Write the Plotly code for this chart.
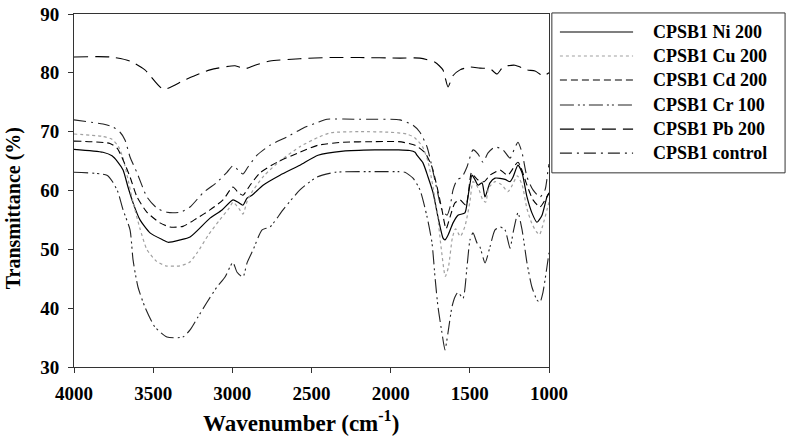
import plotly.graph_objects as go

# ---------------- data ----------------
ni_wn = [4000, 3817, 3760, 3722, 3690, 3659, 3627, 3583, 3520, 3438, 3406, 3330, 3267, 3141, 3065,
         2996, 2964, 2933, 2907, 2876, 2806, 2699, 2573, 2459, 2300, 2100, 1950, 1880, 1846, 1834, 1796,
         1764, 1732, 1701, 1669, 1657, 1638, 1606, 1575, 1531, 1512, 1486, 1467, 1448, 1423, 1404,
         1373, 1341, 1278, 1246, 1227, 1196, 1170, 1139, 1108, 1076, 1044, 1013, 1000]
ni_t = [67.0, 66.5, 65.9, 64.8, 63.5, 60.6, 57.9, 55.0, 52.8, 51.6, 51.2, 51.6, 52.1, 55.3, 56.7,
        58.4, 58.0, 57.5, 58.7, 59.2, 60.9, 62.6, 64.3, 66.0, 66.7, 66.9, 66.9, 66.8, 66.5, 66.0, 64.7,
        62.3, 59.6, 55.5, 51.9, 51.6, 52.4, 54.5, 55.8, 56.2, 58.9, 62.6, 61.8, 60.9, 61.3, 58.9,
        61.3, 62.1, 61.9, 61.5, 62.3, 64.3, 63.0, 58.9, 56.2, 54.6, 55.8, 58.9, 59.5]

cu_wn = [4000, 3820, 3760, 3720, 3690, 3660, 3627, 3583, 3540, 3480, 3420, 3330, 3270, 3220, 3150,
         3080, 3020, 2996, 2960, 2933, 2905, 2870, 2800, 2700, 2570, 2460, 2380, 2200, 2000, 1900,
         1850, 1800, 1765, 1735, 1705, 1680, 1655, 1635, 1610, 1590, 1560, 1530, 1500, 1480, 1460,
         1440, 1420, 1400, 1380, 1340, 1300, 1260, 1230, 1200, 1170, 1140, 1110, 1080, 1060, 1040,
         1010, 1000]
cu_t = [69.6, 69.2, 68.7, 67.5, 65.5, 62.0, 58.0, 53.5, 50.0, 48.0, 47.2, 47.2, 47.8, 49.5, 52.5,
        55.0, 57.0, 58.0, 57.0, 56.0, 58.3, 60.0, 62.5, 65.0, 67.5, 69.0, 69.8, 70.0, 69.9, 69.6,
        69.0, 67.5, 65.0, 61.0, 56.0, 50.0, 45.4, 47.0, 52.0, 53.5, 52.2, 54.0, 58.0, 61.5, 61.0,
        60.0, 58.5, 58.0, 60.5, 61.5, 61.0, 59.8, 61.0, 62.5, 61.0, 57.0, 54.5, 53.0, 52.5, 54.0,
        57.0, 58.0]

cd_wn = [4000, 3773, 3728, 3690, 3646, 3602, 3539, 3457, 3394, 3312, 3223, 3141, 3059, 2996, 2964,
         2933, 2888, 2825, 2718, 2573, 2459, 2300, 2100, 1950, 1846, 1783, 1739, 1707, 1676, 1650,
         1625, 1594, 1562, 1524, 1490, 1470, 1448, 1410, 1373, 1341, 1309, 1260, 1196, 1139, 1101,
         1057, 1025, 1000]
cd_t = [68.4, 68.0, 67.2, 65.2, 62.3, 58.9, 56.3, 54.5, 53.8, 53.9, 55.3, 56.7, 58.4, 60.6, 59.7,
        59.2, 60.9, 63.0, 64.8, 66.5, 67.7, 68.2, 68.3, 68.3, 67.7, 66.4, 64.0, 60.6, 56.7, 53.5,
        55.5, 57.9, 58.4, 57.5, 63.0, 62.4, 61.8, 61.5, 62.6, 63.1, 63.5, 62.6, 64.8, 60.9, 58.4,
        57.2, 58.4, 59.6]

cr_wn = [4000, 3792, 3754, 3722, 3690, 3646, 3627, 3596, 3552, 3489, 3413, 3312, 3267, 3217, 3160,
         3097, 3046, 3015, 2996, 2970, 2933, 2907, 2869, 2812, 2762, 2680, 2573, 2465, 2350, 2100,
         1950, 1910, 1859, 1815, 1770, 1739, 1720, 1701, 1676, 1657, 1638, 1613, 1594, 1575, 1543,
         1518, 1499, 1480, 1455, 1436, 1404, 1373, 1341, 1309, 1278, 1246, 1227, 1196, 1170, 1139,
         1108, 1076, 1057, 1038, 1013, 1000]
cr_t = [63.1, 62.6, 61.4, 59.7, 56.7, 53.3, 48.2, 43.6, 40.2, 36.8, 35.1, 35.1, 36.3, 38.5, 41.0,
        43.6, 45.3, 47.0, 47.8, 46.1, 45.3, 47.7, 49.9, 53.3, 53.8, 56.7, 60.1, 62.3, 63.1, 63.2,
        63.2, 63.1, 62.1, 60.1, 55.5, 51.1, 45.3, 40.2, 35.8, 32.9, 35.8, 40.2, 41.9, 42.7, 41.7,
        47.0, 51.6, 52.8, 51.1, 50.4, 47.7, 50.4, 53.3, 53.8, 53.3, 50.2, 52.8, 56.2, 53.3, 47.7,
        43.6, 41.4, 41.0, 42.7, 47.0, 49.4]

pb_wn = [4000, 3773, 3646, 3552, 3435, 3300, 3141, 2983, 2920, 2857, 2762, 2573, 2383, 2194, 1941,
         1815, 1720, 1670, 1638, 1607, 1562, 1500, 1436, 1373, 1328, 1290, 1215, 1139, 1088, 1038,
         1000]
pb_t = [82.7, 82.7, 82.0, 80.5, 77.2, 78.8, 80.5, 81.2, 80.7, 81.3, 82.0, 82.4, 82.6, 82.6, 82.5,
        82.5, 81.8, 80.5, 77.6, 79.5, 80.5, 81.0, 80.8, 80.7, 79.8, 81.0, 81.3, 80.5, 80.3, 79.5,
        80.0]

ctl_wn = [4000, 3817, 3754, 3709, 3678, 3646, 3602, 3539, 3476, 3413, 3330, 3267, 3185, 3097, 3034,
          2996, 2964, 2933, 2901, 2844, 2762, 2655, 2554, 2459, 2402, 2200, 1941, 1859, 1815, 1770,
          1739, 1707, 1676, 1644, 1625, 1606, 1581, 1549, 1518, 1480, 1448, 1417, 1385, 1341, 1290,
          1246, 1221, 1196, 1170, 1139, 1101, 1057, 1025, 1006, 1000]
ctl_t = [72.0, 71.3, 70.8, 69.9, 68.6, 65.7, 63.0, 58.9, 57.0, 56.3, 56.3, 57.2, 59.6, 61.4, 63.1,
         64.2, 63.5, 62.8, 64.0, 66.0, 67.7, 69.1, 70.6, 71.6, 72.1, 72.1, 72.0, 71.1, 69.9, 67.4,
         64.0, 60.1, 56.7, 55.8, 57.2, 60.1, 61.8, 62.3, 64.0, 66.9, 66.2, 64.8, 66.4, 67.4, 66.9,
         65.5, 66.9, 68.2, 66.4, 62.3, 60.1, 58.9, 60.1, 63.5, 64.5]

series_names = ["CPSB1 Ni 200", "CPSB1 Cu 200", "CPSB1 Cd 200",
                "CPSB1 Cr 100", "CPSB1 Pb 200", "CPSB1 control"]
x_ticks = [4000, 3500, 3000, 2500, 2000, 1500, 1000]
y_ticks = [30, 40, 50, 60, 70, 80, 90]

# ---------------- styles ----------------
styles = [
    dict(color="black", width=1.2, dash="solid"),
    dict(color="#a0a0a0", width=1.2, dash="dot"),
    dict(color="black", width=1.1, dash="7px,4px"),
    dict(color="#222222", width=1.1, dash="14px,4px,2px,3px,2px,4px"),
    dict(color="black", width=1.1, dash="14px,7px"),
    dict(color="#222222", width=1.1, dash="12px,5px,2px,5px"),
]
data = [(ni_wn, ni_t), (cu_wn, cu_t), (cd_wn, cd_t), (cr_wn, cr_t), (pb_wn, pb_t), (ctl_wn, ctl_t)]

FONT = "Liberation Serif"
fig = go.Figure()
for (wx, ty), name, st in zip(data, series_names, styles):
    fig.add_trace(go.Scatter(x=wx, y=ty, mode="lines", name=name, line=st,
                             line_shape="spline", line_smoothing=0.6, showlegend=False))

axis_common = dict(showline=True, linecolor="#333333", linewidth=1, mirror=True, automargin=False,
                   ticks="outside", ticklen=5, tickcolor="#333333", showgrid=False,
                   zeroline=False, tickfont=dict(family=FONT, size=19, color="black"))
fig.update_xaxes(range=[4000, 1000], tickvals=x_ticks, ticktext=[f"<b>{v}</b>" for v in x_ticks],
                 ticklabelstandoff=4, **axis_common)
fig.update_yaxes(range=[30, 90], tickvals=y_ticks, ticktext=[f"<b>{v}</b>" for v in y_ticks],
                 ticklabelstandoff=5, **axis_common)

# custom legend box (paper coordinates)
fig.add_shape(type="rect", xref="paper", yref="paper", x0=1.006, x1=1.497, y0=0.550, y1=1.003,
              line=dict(color="#333333", width=1), fillcolor="white", layer="above")
row_y = [0.949, 0.881, 0.813, 0.742, 0.674, 0.606]
for name, st, yy in zip(series_names, styles, row_y):
    fig.add_shape(type="line", xref="paper", yref="paper", x0=1.023, x1=1.177, y0=yy, y1=yy,
                  line=st)
    fig.add_annotation(xref="paper", yref="paper", x=1.215, y=yy, xanchor="left", yanchor="middle",
                       text=f"<b>{name}</b>", showarrow=False,
                       font=dict(family=FONT, size=18, color="black"))

fig.add_annotation(xref="paper", yref="paper", x=0.478, y=-0.155, xanchor="center", yanchor="middle",
                   text="<b>Wavenumber (cm<sup>-1</sup>)</b>", showarrow=False,
                   font=dict(family=FONT, size=23, color="black"))
fig.add_annotation(xref="paper", yref="paper", x=-0.128, y=0.45, xanchor="center", yanchor="middle",
                   text="<b>Transmittance (%)</b>", textangle=-90, showarrow=False,
                   font=dict(family=FONT, size=20, color="black"))

fig.update_layout(width=786, height=448, margin=dict(l=74, r=237, t=14, b=81, autoexpand=False),
                  paper_bgcolor="white", plot_bgcolor="white", showlegend=False)
fig.write_html("out.html", config={"displayModeBar": False},
               post_script="document.body.style.margin='0';document.body.style.padding='0';")
